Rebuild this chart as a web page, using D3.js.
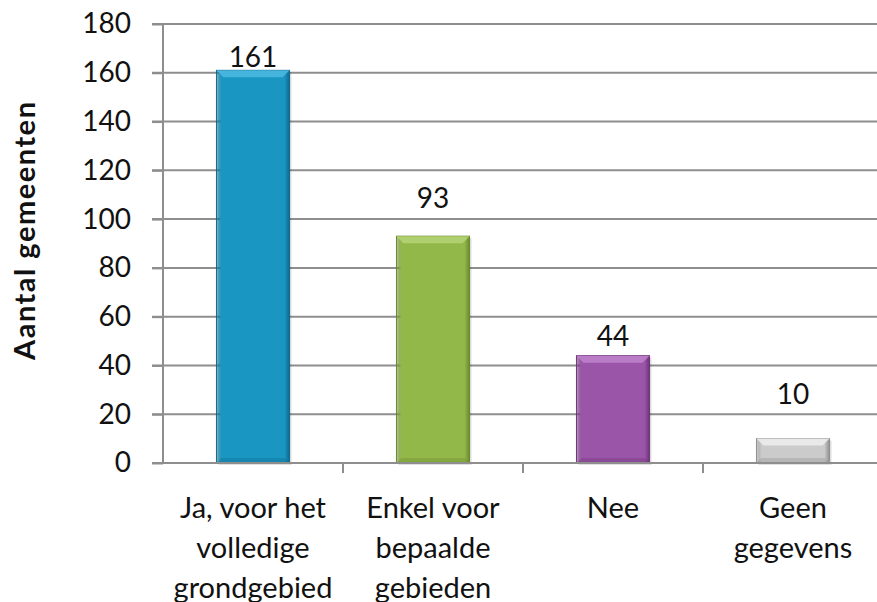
<!DOCTYPE html>
<html>
<head>
<meta charset="utf-8">
<script src="https://d3js.org/d3.v7.min.js"></script>
<style>
  body { margin: 0; background: #fff; }
  svg { font-family: Lato, "Open Sans", sans-serif; }
</style>
</head>
<body>
<svg width="877" height="602"></svg>
<script>
// chart data
var categories = [["Ja, voor het", "volledige", "grondgebied"], ["Enkel voor", "bepaalde", "gebieden"], ["Nee"], ["Geen", "gegevens"]];
var values = [161, 93, 44, 10];
var yTicks = [0, 20, 40, 60, 80, 100, 120, 140, 160, 180];
var barColors = ["#1a96c3", "#93b84a", "#9b55a8", "#cbcbcb"];
var darkColors = ["#0d6a8c", "#6a8a2c", "#6e3379", "#8f8f8f"];
var lightColors = ["#4fbbe2", "#b5d477", "#bf83cc", "#eeeeee"];
// gap between bar top and its label baseline, as placed in the original
var labelGap = [3, 28, 10, 35];

var svg = d3.select("svg");
var plotLeft = 163, plotRight = 883, plotTop = 24, plotBottom = 463;

var x = d3.scaleBand()
  .domain(d3.range(values.length))
  .range([plotLeft, plotRight])
  .paddingInner(0.594)
  .paddingOuter(0.297);

var y = d3.scaleLinear().domain([0, 180]).range([plotBottom, plotTop]);

// gridlines
svg.append("g").selectAll("line").data(yTicks.slice(1)).enter().append("line")
  .attr("x1", plotLeft - 11).attr("x2", 877)
  .attr("y1", function (d) { return y(d); }).attr("y2", function (d) { return y(d); })
  .attr("stroke", "#8e8e8e").attr("stroke-width", 2);

// y axis
var yAxis = d3.axisLeft(y).tickValues(yTicks).tickSize(11).tickPadding(21);
var gy = svg.append("g").attr("transform", "translate(" + plotLeft + ",0)").call(yAxis);
gy.select(".domain").attr("stroke", "#8e8e8e").attr("stroke-width", 2).attr("d", "M0," + plotTop + "V" + plotBottom);
gy.selectAll(".tick line").attr("stroke", "#8e8e8e").attr("stroke-width", 2);
gy.selectAll("text").attr("font-size", 28).attr("fill", "#111").attr("font-family", "Lato, sans-serif");

// bars with a simple bevel look
var defs = svg.append("defs");
values.forEach(function (v, i) {
  var g = defs.append("linearGradient").attr("id", "side" + i).attr("x1", 0).attr("x2", 1).attr("y1", 0).attr("y2", 0);
  g.append("stop").attr("offset", "0%").attr("stop-color", darkColors[i]).attr("stop-opacity", 0.5);
  g.append("stop").attr("offset", "7%").attr("stop-color", barColors[i]);
  g.append("stop").attr("offset", "93%").attr("stop-color", barColors[i]);
  g.append("stop").attr("offset", "100%").attr("stop-color", darkColors[i]);
});

var bars = svg.append("g").selectAll("g").data(values).enter().append("g");
bars.append("rect")
  .attr("x", function (d, i) { return x(i) + 2; })
  .attr("y", function (d) { return y(d) + 2; })
  .attr("width", x.bandwidth())
  .attr("height", function (d) { return y(0) - y(d); })
  .attr("fill", "#000").attr("opacity", 0.12);
bars.append("rect")
  .attr("x", function (d, i) { return x(i); })
  .attr("y", function (d) { return y(d); })
  .attr("width", x.bandwidth())
  .attr("height", function (d) { return y(0) - y(d); })
  .attr("fill", function (d, i) { return "url(#side" + i + ")"; })
  .attr("stroke", function (d, i) { return darkColors[i]; })
  .attr("stroke-width", 1);
// top bevel
bars.append("path")
  .attr("d", function (d, i) {
    var x0 = x(i), x1 = x(i) + x.bandwidth(), t = y(d), b = 7;
    return "M" + x0 + "," + t + "L" + x1 + "," + t + "L" + (x1 - b) + "," + (t + b) + "L" + (x0 + b) + "," + (t + b) + "Z";
  })
  .attr("fill", function (d, i) { return lightColors[i]; }).attr("opacity", 0.85);
// bottom bevel
bars.append("path")
  .attr("d", function (d, i) {
    var x0 = x(i), x1 = x(i) + x.bandwidth(), bt = y(0), b = 5;
    return "M" + x0 + "," + bt + "L" + x1 + "," + bt + "L" + (x1 - b) + "," + (bt - b) + "L" + (x0 + b) + "," + (bt - b) + "Z";
  })
  .attr("fill", function (d, i) { return darkColors[i]; }).attr("opacity", 0.35);

// value labels
svg.append("g").selectAll("text").data(values).enter().append("text")
  .attr("x", function (d, i) { return x(i) + x.bandwidth() / 2; })
  .attr("y", function (d, i) { return y(d) - labelGap[i]; })
  .attr("text-anchor", "middle")
  .attr("font-size", 28).attr("fill", "#111")
  .text(function (d) { return d; });

// x axis line and ticks
svg.append("line").attr("x1", plotLeft - 11).attr("x2", 877).attr("y1", plotBottom).attr("y2", plotBottom)
  .attr("stroke", "#8e8e8e").attr("stroke-width", 2);
svg.append("g").selectAll("line").data(d3.range(1, values.length)).enter().append("line")
  .attr("x1", function (i) { return x(i) - x.step() * x.paddingInner() / 2; })
  .attr("x2", function (i) { return x(i) - x.step() * x.paddingInner() / 2; })
  .attr("y1", plotBottom).attr("y2", plotBottom + 10)
  .attr("stroke", "#8e8e8e").attr("stroke-width", 2);

// category labels
var cat = svg.append("g").selectAll("text").data(categories).enter().append("text")
  .attr("text-anchor", "middle").attr("font-size", 29).attr("fill", "#111")
  .attr("x", function (d, i) { return x(i) + x.bandwidth() / 2; })
  .attr("y", 518);
cat.selectAll("tspan").data(function (d) { return d; }).enter().append("tspan")
  .attr("x", function () { return d3.select(this.parentNode).attr("x"); })
  .attr("dy", function (d, j) { return j === 0 ? 0 : 40; })
  .text(function (d) { return d; });

// y axis title
svg.append("text")
  .attr("transform", "translate(35,231) rotate(-90)")
  .attr("text-anchor", "middle").attr("font-size", 29).attr("font-weight", "bold").attr("fill", "#111")
  .attr("textLength", 258).attr("lengthAdjust", "spacing")
  .text("Aantal gemeenten");
</script>
</body>
</html>
